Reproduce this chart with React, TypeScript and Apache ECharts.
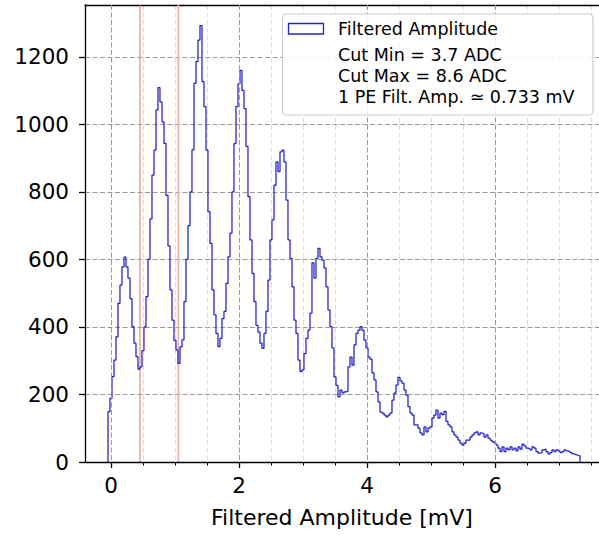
import React, { useEffect, useRef } from "react";
import * as echarts from "echarts";

// Histogram binning (mV)
const binStart = -0.047;
const binWidth = 0.03125;
const counts = [
  149, 189, 253, 302, 371, 470, 524, 578, 607, 578, 545, 484, 401, 352, 312, 275, 282, 330, 400, 490,
  600, 720, 850, 924, 1043, 1109, 1067, 1008, 944, 790, 640, 510, 420, 360, 332, 292, 341, 362, 475, 600,
  700, 800, 925, 1122, 1186, 1250, 1293, 1127, 1053, 924, 742, 648, 510, 436, 381, 342, 366, 425, 446, 529,
  608, 678, 800, 943, 1053, 1120, 1160, 1101, 1047, 935, 786, 658, 559, 475, 405, 385, 352, 337, 381, 446,
  539, 658, 717, 820, 889, 860, 919, 924, 889, 776, 658, 603, 519, 420, 381, 302, 268, 273, 321, 366,
  391, 441, 590, 545, 603, 633, 608, 598, 575, 519, 450, 401, 338, 252, 227, 193, 213, 205, 208, 210,
  282, 311, 287, 347, 381, 391, 401, 390, 361, 338, 311, 305, 264, 243, 208, 178, 148, 145, 139, 134,
  139, 145, 183, 204, 228, 251, 240, 234, 213, 198, 164, 145, 139, 110, 110, 100, 86, 80, 104, 89,
  100, 104, 130, 139, 154, 130, 145, 140, 150, 120, 110, 104, 89, 80, 74, 65, 56, 50, 56, 65,
  65, 74, 80, 86, 89, 80, 86, 84, 74, 80, 71, 65, 60, 56, 50, 41, 31, 45, 31, 41,
  36, 45, 36, 41, 33, 45, 38, 53, 48, 41, 39, 36, 45, 41, 31, 26, 28, 36, 38, 31,
  24, 28, 36, 31, 36, 33, 28, 31, 36, 33, 31, 28, 24, 22, 20, 18,
];

const xMajorTicks = [0, 2, 4, 6];
const xMinorTicks = [0.5, 1, 1.5, 2.5, 3, 3.5, 4.5, 5, 5.5, 6.5, 7, 7.5];
const yTicks = [0, 200, 400, 600, 800, 1000, 1200];
const cutLines = [0.453, 1.053];
const cutColors = ["#f26d6d", "#f7a8a8"];

const seriesName = "Filtered Amplitude";
const legendExtra = ["Cut Min = 3.7 ADC", "Cut Max = 8.6 ADC", "1 PE Filt. Amp. \u2243 0.733 mV"];
const xAxisTitle = "Filtered Amplitude [mV]";

const xMin = -0.406;
const xMax = 7.625;
const yMax = 1354;

const FONT = "DejaVu Sans";

function buildStepData(): number[][] {
  const pts: number[][] = [];
  pts.push([binStart, 0]);
  counts.forEach((c, i) => {
    pts.push([binStart + i * binWidth, c]);
  });
  const endEdge = binStart + counts.length * binWidth;
  pts.push([endEdge, counts[counts.length - 1]]);
  pts.push([endEdge, 0]);
  return pts;
}

export default function App() {
  const ref = useRef<HTMLDivElement>(null);

  useEffect(() => {
    document.body.style.margin = "0";
    if (!ref.current) return;
    const chart = echarts.init(ref.current, undefined, { renderer: "svg" });

    const gridDash = [5, 2.5];

    const cutSeries = cutLines.map((x, i) => ({
      type: "line" as const,
      data: [
        [x, 0],
        [x, yMax],
      ],
      symbol: "none",
      silent: true,
      lineStyle: { color: cutColors[i], width: i === 0 ? 1 : 1.6 },
      z: 3,
    }));

    const legendTexts = [seriesName, ...legendExtra];
    const legendY = [29, 55, 76, 97];

    chart.setOption({
      animation: false,
      backgroundColor: "#ffffff",
      grid: {
        left: 85,
        right: 0,
        top: 5,
        bottom: 73,
        show: false,
      },
      xAxis: [
        {
          type: "value",
          min: xMin,
          max: xMax,
          axisLine: { show: true, onZero: false, lineStyle: { color: "#000", width: 1.3 } },
          axisTick: { show: true, length: 6, customValues: xMajorTicks, lineStyle: { color: "#000", width: 1.3 } },
          axisLabel: {
            customValues: xMajorTicks,
            fontSize: 21.5,
            color: "#000",
            fontFamily: FONT,
            margin: 12,
          },
          splitLine: { show: true, lineStyle: { color: "#9a9a9a", type: gridDash, width: 1 } },
          name: xAxisTitle,
          nameLocation: "middle",
          nameGap: 44,
          nameTextStyle: { fontSize: 22, color: "#000", fontFamily: FONT },
          z: 5,
        },
        {
          type: "value",
          min: xMin,
          max: xMax,
          position: "bottom",
          axisLine: { show: false, onZero: false },
          axisTick: { show: true, length: 3.5, customValues: xMinorTicks, lineStyle: { color: "#000", width: 1 } },
          axisLabel: { show: false, customValues: xMinorTicks },
          splitLine: { show: true, lineStyle: { color: "#dcdcdc", type: gridDash, width: 1 } },
        },
        {
          type: "value",
          min: xMin,
          max: xMax,
          position: "top",
          axisLine: { show: true, onZero: false, lineStyle: { color: "#000", width: 1.3 } },
          axisTick: { show: false },
          axisLabel: { show: false },
          splitLine: { show: false },
        },
      ],
      yAxis: {
        type: "value",
        min: 0,
        max: yMax,
        axisLine: { show: true, onZero: false, lineStyle: { color: "#000", width: 1.3 } },
        axisTick: { show: true, length: 6, customValues: yTicks, lineStyle: { color: "#000", width: 1.3 } },
        axisLabel: {
          customValues: yTicks,
          formatter: (v: number) => String(v),
          fontSize: 21.5,
          color: "#000",
          fontFamily: FONT,
          margin: 16,
        },
        splitLine: { show: true, lineStyle: { color: "#9a9a9a", type: gridDash, width: 1 } },
      },
      series: [
        {
          name: seriesName,
          type: "line",
          step: "end",
          data: buildStepData(),
          symbol: "none",
          lineStyle: { color: "#2020cc", width: 1.25 },
          z: 4,
        },
        ...cutSeries,
      ],
      graphic: [
        {
          type: "rect",
          z: 100,
          shape: { x: 282.5, y: 14, width: 310.5, height: 101, r: 4 },
          style: { fill: "rgba(255,255,255,0.85)", stroke: "#cccccc", lineWidth: 1.2 },
        },
        {
          type: "rect",
          z: 101,
          shape: { x: 288.5, y: 23.5, width: 35, height: 10.5 },
          style: { fill: "none", stroke: "#2424cc", lineWidth: 1.3 },
        },
        ...legendTexts.map((t, i) => ({
          type: "text",
          z: 101,
          x: 338,
          y: legendY[i],
          style: {
            text: t,
            fontSize: 17.5,
            fontFamily: FONT,
            fill: "#000",
            verticalAlign: "middle",
            align: "left",
          },
        })),
      ],
    });

    return () => {
      chart.dispose();
    };
  }, []);

  return <div ref={ref} style={{ width: 599, height: 535 }} />;
}
